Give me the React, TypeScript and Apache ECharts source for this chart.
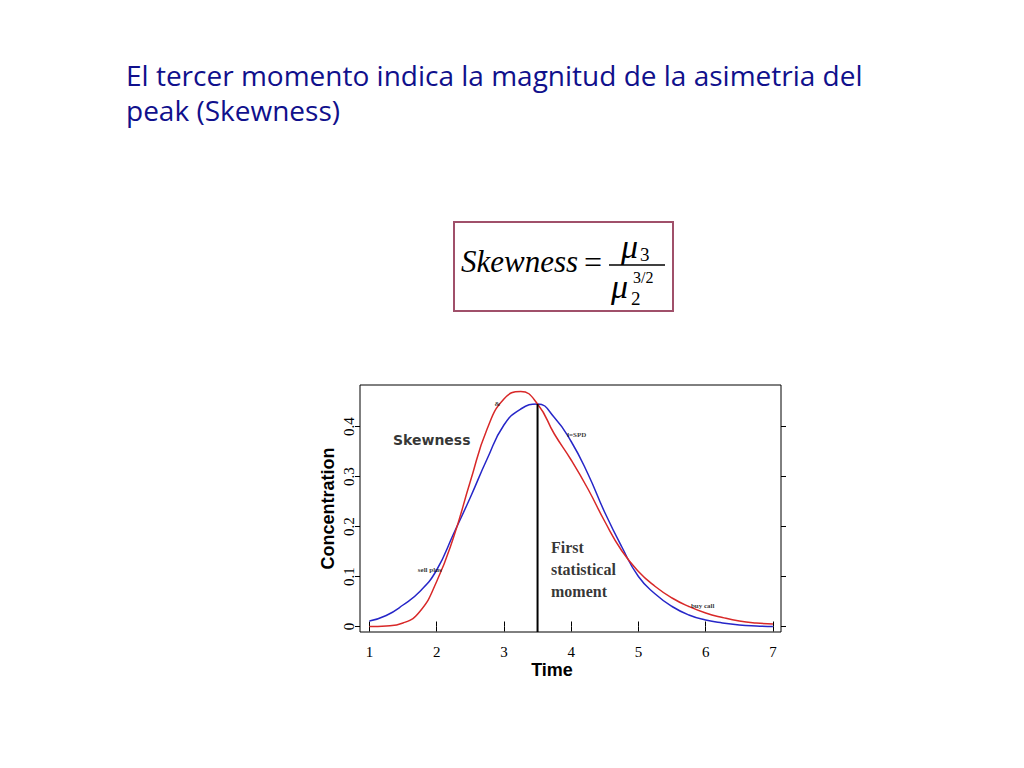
import React, { useEffect, useRef } from 'react';
import * as echarts from 'echarts';

// time grid shared by both curves
const timeX = [1, 1.25, 1.5, 1.75, 2, 2.25, 2.5, 2.75, 3, 3.25, 3.5, 3.75, 4, 4.25, 4.5, 4.75, 5, 5.25, 5.5, 5.75, 6, 6.25, 6.5, 6.75, 7];
const blueConc = [0.011, 0.022, 0.043, 0.07, 0.113, 0.185, 0.258, 0.335, 0.403, 0.435, 0.445, 0.418, 0.37, 0.305, 0.228, 0.16, 0.1, 0.065, 0.04, 0.023, 0.013, 0.007, 0.003, 0.001, 0];
const redConc = [0, 0.001, 0.007, 0.03, 0.09, 0.178, 0.29, 0.395, 0.455, 0.47, 0.445, 0.385, 0.333, 0.275, 0.21, 0.152, 0.11, 0.08, 0.057, 0.04, 0.027, 0.018, 0.011, 0.007, 0.005];

const xTicks = [1, 2, 3, 4, 5, 6, 7];
const yTicks = [0, 0.1, 0.2, 0.3, 0.4];

const momentX = 3.5;
const momentTop = 0.445;

const xMin = 0.86;
const xMax = 7.12;
const yMin = -0.011;
const yMax = 0.483;

const titleLines = [
  'El tercer momento indica la magnitud de la asimetria del',
  'peak (Skewness)',
];

// small labels inside the plot, anchored in data units
const annotations = [
  { text: 'Skewness', x: 1.35, y: 0.373, font: 'DejaVu Sans', size: 14, weight: 'bold' },
  { text: 'First\nstatistical\nmoment', x: 3.7, y: 0.115, font: 'Liberation Serif', size: 16, weight: 'bold' },
  { text: '&', x: 2.86, y: 0.445, font: 'Liberation Serif', size: 7, weight: 'bold' },
  { text: 'l=SPD', x: 3.94, y: 0.383, font: 'Liberation Serif', size: 7, weight: 'bold' },
  { text: 'sell plus', x: 1.72, y: 0.113, font: 'Liberation Serif', size: 7, weight: 'bold' },
  { text: 'buy call', x: 5.78, y: 0.041, font: 'Liberation Serif', size: 7, weight: 'bold' },
];

const serif = 'Liberation Serif, Times New Roman, serif';

const App: React.FC = () => {
  const chartRef = useRef<HTMLDivElement>(null);

  useEffect(() => {
    const chart = echarts.init(chartRef.current!, null, { renderer: 'svg' });

    const tickLabel = { fontFamily: serif, fontSize: 15, color: '#000' };

    const options = {
      animation: false,
      backgroundColor: '#fff',
      grid: {
        left: 360,
        right: 243,
        top: 385,
        bottom: 136,
        show: true,
        borderColor: '#000',
        borderWidth: 1,
        backgroundColor: 'transparent',
      },
      xAxis: [
        {
          type: 'value',
          min: xMin,
          max: xMax,
          position: 'bottom',
          splitLine: { show: false },
          axisLine: { show: false },
          axisTick: { show: true, length: 5, customValues: xTicks, lineStyle: { color: '#000' } },
          axisLabel: { ...tickLabel, margin: 12, customValues: xTicks },
        },
        {
          type: 'value',
          min: xMin,
          max: xMax,
          position: 'top',
          splitLine: { show: false },
          axisLine: { show: false },
          axisTick: { show: true, length: 5, customValues: xTicks, lineStyle: { color: '#000' } },
          axisLabel: { show: false },
        },
      ],
      yAxis: [
        {
          type: 'value',
          min: yMin,
          max: yMax,
          position: 'left',
          splitLine: { show: false },
          axisLine: { show: false },
          axisTick: { show: true, length: 5, customValues: yTicks, lineStyle: { color: '#000' } },
          axisLabel: { ...tickLabel, rotate: 90, margin: 4, customValues: yTicks },
          name: 'Concentration',
          nameLocation: 'middle',
          nameGap: 23,
          nameTextStyle: { fontFamily: 'Liberation Sans, Arial, sans-serif', fontSize: 18, fontWeight: 'bold', color: '#000' },
        },
        {
          type: 'value',
          min: yMin,
          max: yMax,
          position: 'right',
          splitLine: { show: false },
          axisLine: { show: false },
          axisTick: { show: true, length: 5, customValues: yTicks, lineStyle: { color: '#000' } },
          axisLabel: { show: false },
        },
      ],
      series: [
        {
          type: 'line',
          data: timeX.map((t, i) => [t, blueConc[i]]),
          smooth: 0.5,
          symbol: 'none',
          lineStyle: { color: '#2626c8', width: 1.5 },
          z: 3,
        },
        {
          type: 'line',
          data: timeX.map((t, i) => [t, redConc[i]]),
          smooth: 0.5,
          symbol: 'none',
          lineStyle: { color: '#d82828', width: 1.5 },
          z: 3,
        },
        {
          type: 'line',
          data: [[momentX, yMin], [momentX, momentTop]],
          symbol: 'none',
          lineStyle: { color: '#000', width: 2 },
          z: 4,
        },
        {
          type: 'scatter',
          symbolSize: 0,
          silent: true,
          z: 5,
          data: annotations.map((a) => ({
            value: [a.x, a.y],
            name: a.text,
            label: {
              show: true,
              position: 'inside',
              align: 'left',
              verticalAlign: 'middle',
              formatter: '{b}',
              fontFamily: a.font,
              fontSize: a.size,
              fontWeight: a.weight,
              lineHeight: a.size + 6,
              color: '#000',
            },
          })),
        },
      ],
      graphic: [
        {
          type: 'text',
          left: 126,
          top: 57,
          style: {
            text: titleLines.join('\n'),
            font: '28px "Open Sans", sans-serif',
            lineHeight: 35,
            fill: '#10108c',
          },
        },
        {
          type: 'rect',
          shape: { x: 454, y: 222, width: 219, height: 89 },
          style: { fill: '#fff', stroke: '#a0506a', lineWidth: 2 },
        },
        {
          type: 'text',
          x: 461,
          y: 261,
          style: { text: 'Skewness', font: 'italic 31px ' + serif, fill: '#000', verticalAlign: 'middle' },
        },
        {
          type: 'text',
          x: 584,
          y: 262,
          style: { text: '=', font: '32px ' + serif, fill: '#000', verticalAlign: 'middle' },
        },
        {
          type: 'line',
          shape: { x1: 609, y1: 265, x2: 665, y2: 265 },
          style: { stroke: '#000', lineWidth: 1.5 },
        },
        {
          type: 'text',
          x: 621,
          y: 246,
          style: { text: 'μ', font: 'italic 34px ' + serif, fill: '#000', verticalAlign: 'middle' },
        },
        {
          type: 'text',
          x: 640,
          y: 254,
          style: { text: '3', font: '19px ' + serif, fill: '#000', verticalAlign: 'middle' },
        },
        {
          type: 'text',
          x: 611,
          y: 286,
          style: { text: 'μ', font: 'italic 34px ' + serif, fill: '#000', verticalAlign: 'middle' },
        },
        {
          type: 'text',
          x: 631,
          y: 298,
          style: { text: '2', font: '19px ' + serif, fill: '#000', verticalAlign: 'middle' },
        },
        {
          type: 'text',
          x: 633,
          y: 277,
          style: { text: '3/2', font: '16px ' + serif, fill: '#000', verticalAlign: 'middle' },
        },
        {
          type: 'text',
          x: 552,
          y: 670,
          style: {
            text: 'Time',
            font: 'bold 18px "Liberation Sans", Arial, sans-serif',
            fill: '#000',
            align: 'center',
            verticalAlign: 'middle',
          },
        },
      ],
    };

    chart.setOption(options as any);

    return () => {
      chart.dispose();
    };
  }, []);

  return (
    <div
      ref={chartRef}
      style={{ position: 'absolute', left: 0, top: 0, width: '1024px', height: '768px' }}
    />
  );
};

export default App;
